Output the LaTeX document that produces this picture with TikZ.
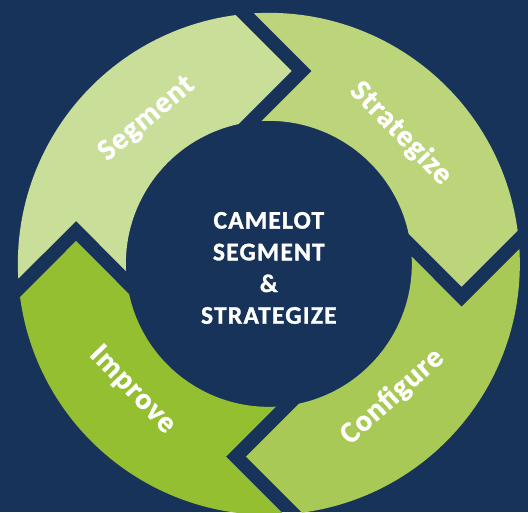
\documentclass[tikz,border=0pt]{standalone}
\usepackage{fontspec}
\setmainfont{Carlito}
\newfontfamily\ringfont[UprightFont={* Bold},BoldFont={* Bold},FakeBold=1.2,LetterSpace=3.5]{Carlito}
\newfontfamily\corefont[UprightFont={* Bold},BoldFont={* Bold},FakeBold=1.3,LetterSpace=5]{Carlito}
\definecolor{bgnavy}{HTML}{17335A}
\definecolor{segA}{HTML}{C9DE98}
\definecolor{segB}{HTML}{BCD47A}
\definecolor{segC}{HTML}{A8C956}
\definecolor{segD}{HTML}{94BF31}
\tikzset{
  ringlabel/.style={text=white, font=\ringfont\fontsize{30}{36}\selectfont, inner sep=0pt},
  centertext/.style={text=white, align=center, inner sep=0pt, font=\corefont\fontsize{25.4}{31.7}\selectfont}
}
\begin{document}
\begin{tikzpicture}[x=1pt,y=1pt]
\fill[bgnavy] (-268.85,-248.15) rectangle (259.15,263.85);
\useasboundingbox (-268.85,-248.15) rectangle (259.15,263.85);
% Segment
\fill[segA] (97.58:251) arc[start angle=97.58, end angle=183.39, radius=251]
  -- (167.47:197.55) -- (182.89:143) arc[start angle=182.89, end angle=102.21, radius=143]
  -- (83.24:194.2) -- cycle;
% Strategize
\fill[segB] (7.58:251) arc[start angle=7.58, end angle=93.39, radius=251]
  -- (77.47:197.55) -- (92.89:143) arc[start angle=92.89, end angle=12.21, radius=143]
  -- (-6.76:194.2) -- cycle;
% Configure
\fill[segC] (-82.42:251) arc[start angle=-82.42, end angle=3.39, radius=251]
  -- (-12.53:197.55) -- (2.89:143) arc[start angle=2.89, end angle=-77.79, radius=143]
  -- (-96.76:194.2) -- cycle;
% Improve
\fill[segD] (-172.42:251) arc[start angle=-172.42, end angle=-86.61, radius=251]
  -- (-102.53:197.55) -- (-87.11:143) arc[start angle=-87.11, end angle=-167.79, radius=143]
  -- (-186.76:194.2) -- cycle;
\node[ringlabel, rotate=40] (lseg) at (130.1:189.5) {Segment};
\node[ringlabel, rotate=-45.5] (lstr) at (44.7:185.5) {Strategize};
\node[ringlabel, rotate=42] (lcon) at (-47.1:181.4) {Configure};
\node[ringlabel, rotate=-46] (limp) at (222.7:185.9) {Improve};
\node[centertext] (core) at (0,-4.1) {CAMELOT\\SEGMENT\\\&\\STRATEGIZE};
\end{tikzpicture}
\end{document}
